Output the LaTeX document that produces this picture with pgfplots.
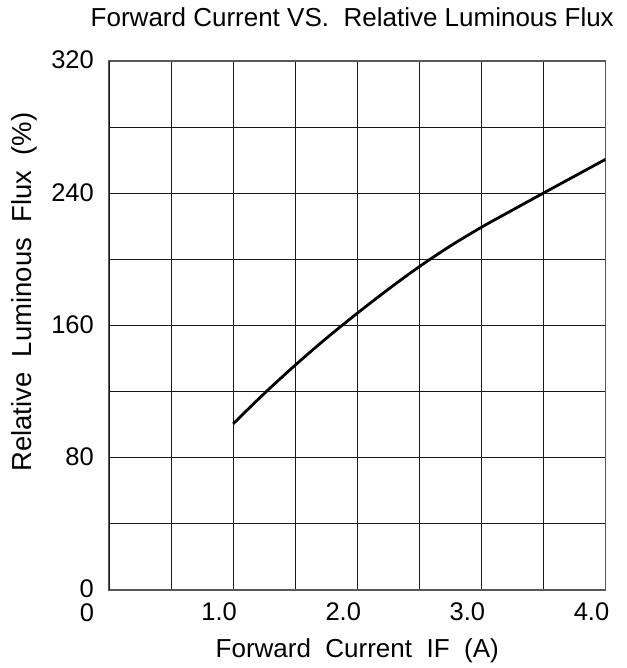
\documentclass[border=0pt]{standalone}
\usepackage{fontspec}
\setmainfont{Liberation Sans}
\usepackage{pgfplots}
\pgfplotsset{compat=1.18}

\begin{document}
\begin{tikzpicture}[x=1pt,y=1pt]
% page frame: 626 x 668 px, 1pt = 1px
\path[use as bounding box] (0,0) rectangle (626,668);
\begin{axis}[
  at={(109pt,78pt)}, anchor=south west,
  scale only axis,
  width=496.5pt, height=529pt,
  xmin=0, xmax=4, ymin=0, ymax=320,
  xtick={0,0.5,...,4},
  xticklabels={,,1.0,,2.0,,3.0,,4.0},
  extra x ticks={0},
  extra x tick labels={0},
  extra x tick style={xticklabel style={xshift=-8pt, yshift=-1.5pt}},
  ytick={0,40,...,320},
  yticklabels={0,,80,,160,,240,,320},
  major tick length=0pt,
  tick style={draw=none},
  grid=major,
  major grid style={black!90, line width=1pt},
  axis line style={black!65, line width=1.3pt},
  /pgf/number format/assume math mode=true,
  tick label style={font=\fontsize{25.5}{28}\selectfont, inner sep=0pt},
  xticklabel style={anchor=north, yshift=-12pt, xshift=-14pt},
  yticklabel style={anchor=east, xshift=-15pt, yshift=1pt},
  title={Forward Current VS.\ \ Relative Luminous Flux},
  title style={font=\fontsize{26}{28}\selectfont, at={(rel axis cs:0.49,1)}, anchor=base, yshift=28pt, inner sep=0pt},
  xlabel={Forward\ \ Current\ \ IF\ \ (A)},
  xlabel style={font=\fontsize{26}{30}\selectfont, at={(rel axis cs:0.5,0)}, anchor=base, yshift=-67pt, inner sep=0pt},
  ylabel={Relative\ \ Luminous\ \ Flux\ \ (\%)},
  ylabel style={font=\fontsize{27.5}{30}\selectfont, at={(rel axis cs:-0.171,0.563)}, anchor=center, inner sep=0pt},
]
\addplot[black, line width=2.8pt, smooth] coordinates {
  (1.0,100.5) (1.25,118.8) (1.5,136) (1.75,152.2) (2.0,167.4) (2.25,181.9)
  (2.5,195.6) (2.75,208.1) (3.0,219.4) (3.25,229.8) (3.5,240.1) (3.75,250.3) (4.0,260.5)
};
\end{axis}
\end{tikzpicture}
\end{document}
